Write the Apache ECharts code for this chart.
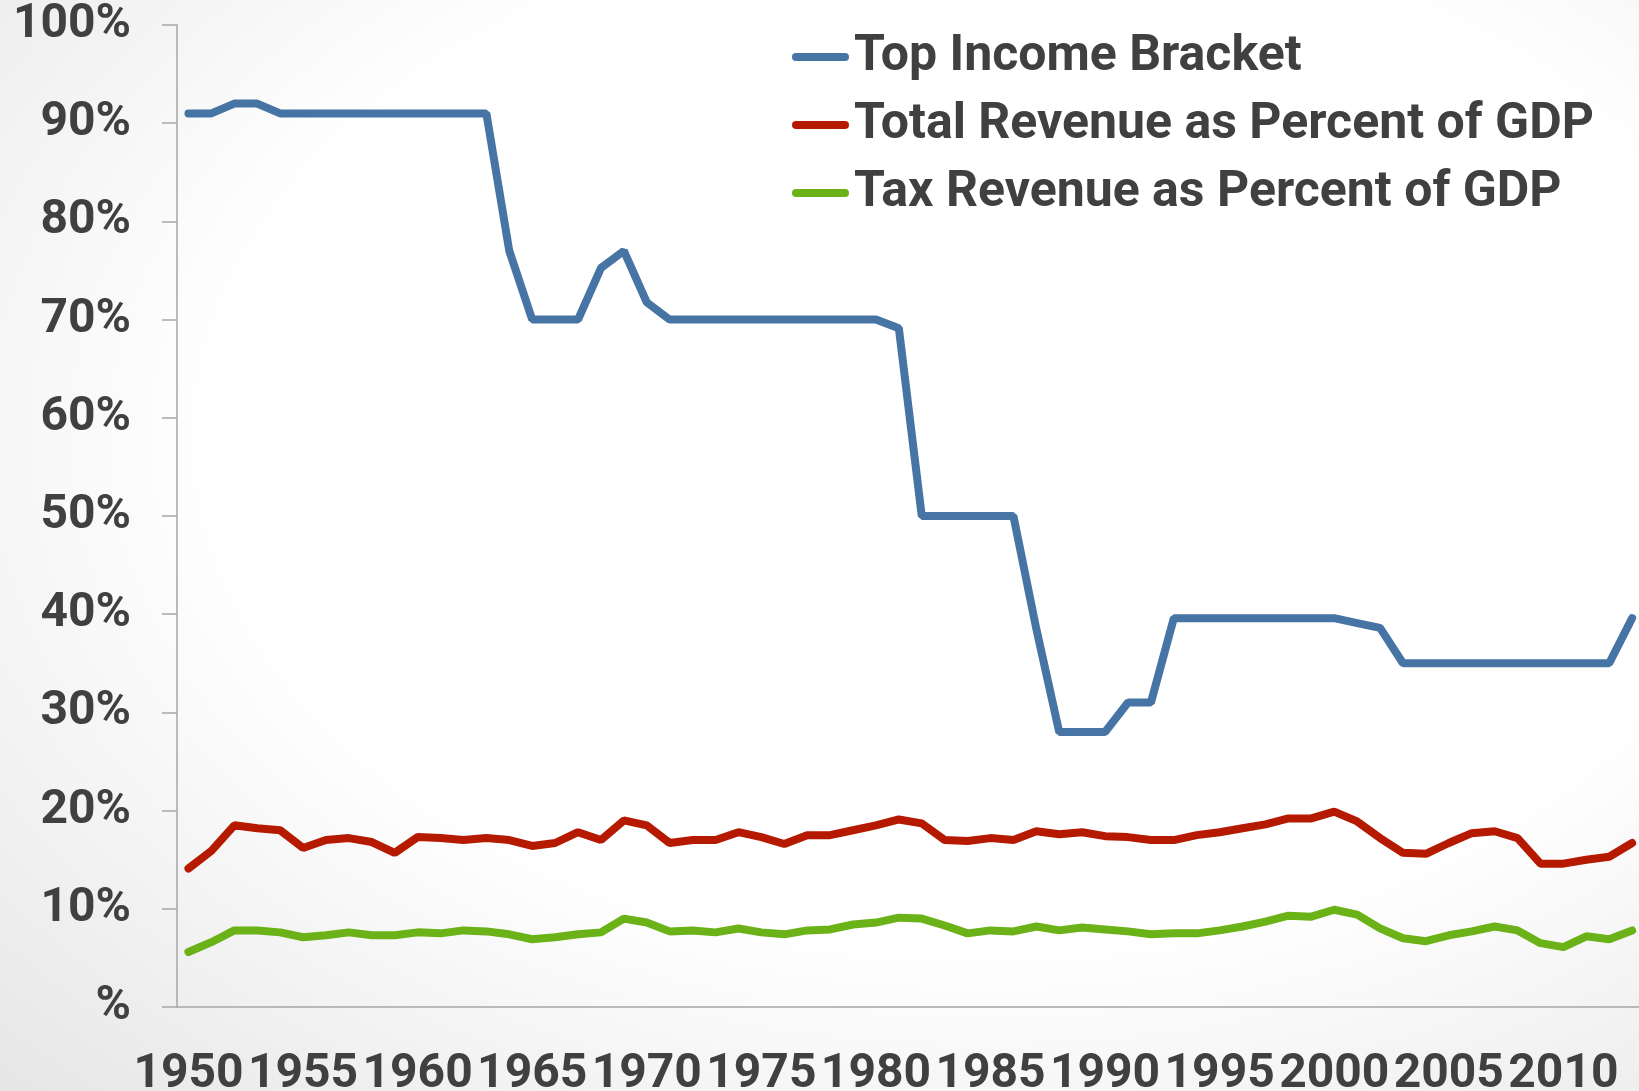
<!DOCTYPE html>
<html>
<head>
<meta charset="utf-8">
<script src="https://cdn.jsdelivr.net/npm/echarts@6/dist/echarts.min.js"></script>
<style>
html, body {
    margin: 0;
    padding: 0;
    width: 1639px;
    height: 1091px;
    overflow: hidden;
    background: radial-gradient(ellipse at 60% 40%, #ffffff 55%, #e6e6e6 100%);
}
#chart { width: 1639px; height: 1091px; }
</style>
</head>
<body>
<div id="chart"></div>
<script>
var years = ['1950','1951','1952','1953','1954','1955','1956','1957','1958','1959',
             '1960','1961','1962','1963','1964','1965','1966','1967','1968','1969',
             '1970','1971','1972','1973','1974','1975','1976','1977','1978','1979',
             '1980','1981','1982','1983','1984','1985','1986','1987','1988','1989',
             '1990','1991','1992','1993','1994','1995','1996','1997','1998','1999',
             '2000','2001','2002','2003','2004','2005','2006','2007','2008','2009',
             '2010','2011','2012','2013'];

var topBracket = [91, 91, 92, 92, 91, 91, 91, 91, 91, 91,
                  91, 91, 91, 91, 77, 70, 70, 70, 75.25, 77,
                  71.75, 70, 70, 70, 70, 70, 70, 70, 70, 70,
                  70, 69.13, 50, 50, 50, 50, 50, 38.5, 28, 28,
                  28, 31, 31, 39.6, 39.6, 39.6, 39.6, 39.6, 39.6, 39.6,
                  39.6, 39.1, 38.6, 35, 35, 35, 35, 35, 35, 35,
                  35, 35, 35, 39.6];

var totalRevenue = [14.1, 15.9, 18.5, 18.2, 18.0, 16.2, 17.0, 17.2, 16.8, 15.7,
                    17.3, 17.2, 17.0, 17.2, 17.0, 16.4, 16.7, 17.8, 17.0, 19.0,
                    18.5, 16.7, 17.0, 17.0, 17.8, 17.3, 16.6, 17.5, 17.5, 18.0,
                    18.5, 19.1, 18.7, 17.0, 16.9, 17.2, 17.0, 17.9, 17.6, 17.8,
                    17.4, 17.3, 17.0, 17.0, 17.5, 17.8, 18.2, 18.6, 19.2, 19.2,
                    19.9, 18.9, 17.2, 15.7, 15.6, 16.7, 17.7, 17.9, 17.2, 14.6,
                    14.6, 15.0, 15.3, 16.7];

var taxRevenue = [5.6, 6.6, 7.8, 7.8, 7.6, 7.1, 7.3, 7.6, 7.3, 7.3,
                  7.6, 7.5, 7.8, 7.7, 7.4, 6.9, 7.1, 7.4, 7.6, 9.0,
                  8.6, 7.7, 7.8, 7.6, 8.0, 7.6, 7.4, 7.8, 7.9, 8.4,
                  8.6, 9.1, 9.0, 8.3, 7.5, 7.8, 7.7, 8.2, 7.8, 8.1,
                  7.9, 7.7, 7.4, 7.5, 7.5, 7.8, 8.2, 8.7, 9.3, 9.2,
                  9.9, 9.4, 8.0, 7.0, 6.7, 7.3, 7.7, 8.2, 7.8, 6.5,
                  6.1, 7.2, 6.9, 7.8];

var seriesNames = ['Top Income Bracket', 'Total Revenue as Percent of GDP', 'Tax Revenue as Percent of GDP'];
var colors = ['#4674a5', '#b51a00', '#6ab217'];

var textColor = '#404040';
var axisColor = '#a6a6a6';
var font = 'Roboto';

var myChart = echarts.init(document.getElementById('chart'));

var option = {
    backgroundColor: 'transparent',
    animation: false,
    color: colors,
    grid: {
        left: 177,
        right: -4.6,
        top: 25,
        bottom: 84,
        containLabel: false,
        outerBoundsMode: 'none'
    },
    legend: {
        orient: 'vertical',
        left: 792,
        top: 27,
        padding: 0,
        itemWidth: 57,
        itemHeight: 8,
        itemGap: 8,
        icon: 'path://M4,0 L53,0 A4,4 0 0 1 53,8 L4,8 A4,4 0 0 1 4,0 Z',
        textStyle: {
            fontFamily: font,
            fontWeight: 'bold',
            fontSize: 50,
            lineHeight: 60,
            color: textColor
        },
        data: seriesNames
    },
    xAxis: {
        type: 'category',
        data: years,
        boundaryGap: true,
        axisLine: { lineStyle: { color: axisColor, width: 1.5 } },
        axisTick: { interval: 4, length: 16, lineStyle: { color: axisColor, width: 1.5 } },
        axisLabel: {
            interval: 4,
            margin: 44,
            fontFamily: font,
            fontWeight: 'bold',
            fontSize: 48,
            color: textColor
        },
        splitLine: { show: false }
    },
    yAxis: {
        type: 'value',
        min: 0,
        max: 100,
        interval: 10,
        axisLine: { show: true, lineStyle: { color: axisColor, width: 1.5 } },
        axisTick: { show: true, length: 15, lineStyle: { color: axisColor, width: 1.5 } },
        axisLabel: {
            margin: 46,
            padding: [6, 0, 0, 0],
            fontFamily: font,
            fontWeight: 'bold',
            fontSize: 48,
            color: textColor,
            formatter: function (v) { return v === 0 ? '%' : v + '%'; }
        },
        splitLine: { show: false }
    },
    series: [
        { name: seriesNames[0], type: 'line', data: topBracket, symbol: 'none',
          lineStyle: { width: 8, color: colors[0], cap: 'round' } },
        { name: seriesNames[1], type: 'line', data: totalRevenue, symbol: 'none',
          lineStyle: { width: 8, color: colors[1], cap: 'round' } },
        { name: seriesNames[2], type: 'line', data: taxRevenue, symbol: 'none',
          lineStyle: { width: 8, color: colors[2], cap: 'round' } }
    ]
};

myChart.setOption(option);
</script>
</body>
</html>
